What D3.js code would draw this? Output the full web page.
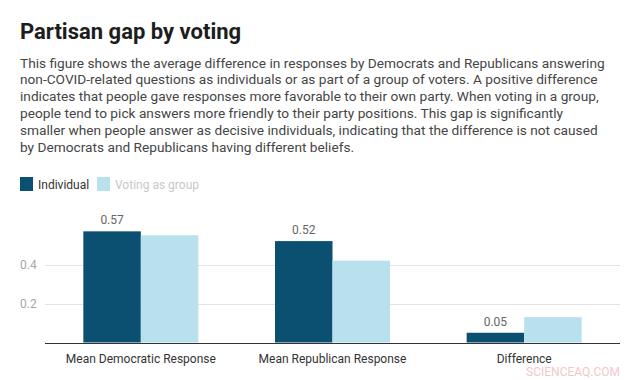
<!DOCTYPE html>
<html>
<head>
<meta charset="utf-8">
<script src="https://cdn.jsdelivr.net/npm/d3@7"></script>
<style>
  html, body { margin: 0; padding: 0; background: #fff; }
  svg { display: block; font-family: Roboto, "Noto Sans", sans-serif; }
</style>
</head>
<body>
<svg id="chart" width="636" height="380"></svg>
<script>
const categories = ["Mean Democratic Response", "Mean Republican Response", "Difference"];
const seriesNames = ["Individual", "Voting as group"];
const individual = [0.57, 0.52, 0.05];
const votingAsGroup = [0.55, 0.42, 0.13];
const valueLabels = ["0.57", "0.52", "0.05"];
const tickValues = [0.2, 0.4];
const tickLabels = ["0.2", "0.4"];
const titleText = "Partisan gap by voting";
const descLines = [
  "This figure shows the average difference in responses by Democrats and Republicans answering",
  "non-COVID-related questions as individuals or as part of a group of voters. A positive difference",
  "indicates that people gave responses more favorable to their own party. When voting in a group,",
  "people tend to pick answers more friendly to their party positions. This gap is significantly",
  "smaller when people answer as decisive individuals, indicating that the difference is not caused",
  "by Democrats and Republicans having different beliefs."
];
const watermark = "SCIENCEAQ.COM";

const colors = ["#0b4f71", "#b8e1ed"];
const svg = d3.select("#chart");

// Title
svg.append("text").attr("x", 20).attr("y", 39)
  .attr("font-size", 22).attr("font-weight", 700).attr("fill", "#1d1d1d")
  .text(titleText);

// Description
const desc = svg.append("text").attr("font-size", 13.7).attr("fill", "#454545");
descLines.forEach((l, i) => {
  desc.append("tspan").attr("x", 20).attr("y", 67.5 + i * 16.95).text(l);
});

// Legend
const legend = svg.append("g");
const legendX = [20, 97];
seriesNames.forEach((s, i) => {
  legend.append("rect").attr("x", legendX[i]).attr("y", 177).attr("width", 13).attr("height", 14)
    .attr("fill", colors[i]);
  legend.append("text").attr("x", legendX[i] + 18).attr("y", 189)
    .attr("font-size", 12).attr("fill", i === 0 ? "#333" : "#c8c8c8").text(s);
});

// Scales
const x0 = d3.scaleBand().domain(categories).range([45, 620]).paddingInner(0.4).paddingOuter(0.2);
const x1 = d3.scaleBand().domain(seriesNames).range([0, x0.bandwidth()]);
const y = d3.scaleLinear().domain([0, 0.6]).range([342.5, 225.5]);

// Gridlines
svg.append("g").selectAll("line").data(tickValues).join("line")
  .attr("x1", 45).attr("x2", 620)
  .attr("y1", d => Math.round(y(d)) + 0.5).attr("y2", d => Math.round(y(d)) + 0.5)
  .attr("stroke", "#e3e3e3").attr("stroke-width", 1);

// Tick labels
svg.append("g").selectAll("text").data(tickValues).join("text")
  .attr("x", 20).attr("y", d => y(d) + 4)
  .attr("font-size", 12).attr("fill", "#a6a6a6")
  .text((d, i) => tickLabels[i]);

// Bars
const data = categories.map((c, i) => ({ cat: c, vals: [individual[i], votingAsGroup[i]] }));
const groups = svg.append("g").selectAll("g").data(data).join("g")
  .attr("transform", d => `translate(${x0(d.cat)},0)`);
groups.selectAll("rect").data(d => d.vals.map((v, j) => ({ v, s: seriesNames[j], j })))
  .join("rect")
  .attr("x", d => x1(d.s)).attr("width", x1.bandwidth())
  .attr("y", d => y(d.v)).attr("height", d => y(0) - y(d.v))
  .attr("fill", d => colors[d.j]);

// Value labels (individual)
svg.append("g").selectAll("text").data(data).join("text")
  .attr("x", d => x0(d.cat) + x1(seriesNames[0]) + x1.bandwidth() / 2)
  .attr("y", d => y(d.vals[0]) - 7)
  .attr("text-anchor", "middle").attr("font-size", 12).attr("fill", "#666")
  .text((d, i) => valueLabels[i]);

// Baseline axis
svg.append("line").attr("x1", 45).attr("x2", 620)
  .attr("y1", Math.round(y(0)) + 0.5).attr("y2", Math.round(y(0)) + 0.5)
  .attr("stroke", "#333").attr("stroke-width", 1);

// Category labels
const xAxis = d3.axisBottom(x0).tickSize(0).tickPadding(0);
const xg = svg.append("g").attr("transform", `translate(0,${y(0)})`).call(xAxis);
xg.select(".domain").remove();
xg.selectAll("text").attr("font-size", 12).attr("fill", "#333")
  .attr("font-family", "Roboto, sans-serif").attr("dy", "1.7em");

// Watermark
svg.append("text").attr("x", 620).attr("y", 376).attr("text-anchor", "end")
  .attr("font-size", 12).attr("fill", "#f3c6cc").text(watermark);
</script>
</body>
</html>
